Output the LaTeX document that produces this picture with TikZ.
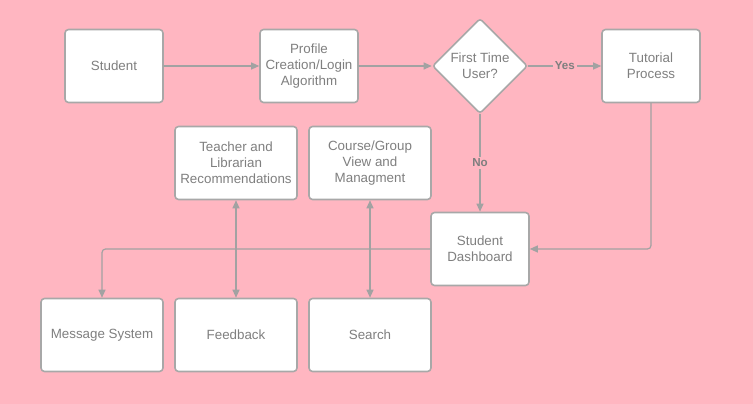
\documentclass[tikz,border=0pt]{standalone}
\usepackage{fontspec}
\setmainfont{Liberation Sans}
\usepackage{tikz}
\usetikzlibrary{arrows.meta,shapes.geometric}

\definecolor{bgpink}{HTML}{FFB6C1}
\definecolor{boxline}{HTML}{A8A8A8}
\definecolor{wire}{HTML}{A2A2A2}
\definecolor{txtgray}{HTML}{7F7F7F}

\tikzset{
  box/.style={draw=boxline,line width=0.9pt,fill=white,rounded corners=2pt,
    minimum width=1.96cm,minimum height=1.46cm,align=center,text=txtgray,
    font=\fontsize{7.6}{9.1}\selectfont,inner sep=1pt},
  widebox/.style={box,minimum width=2.44cm},
  choice/.style={box,diamond,minimum width=1.9cm,minimum height=1.9cm,rounded corners=1.5pt},
  wirelabel/.style={fill=bgpink,text=txtgray,inner sep=1pt,
    font=\fontsize{6.6}{8}\selectfont\bfseries},
  link/.style={draw=wire,line width=0.7pt,-{Triangle[length=4.6pt,width=4pt]}},
  both/.style={link,{Triangle[length=4.6pt,width=4pt]}-{Triangle[length=4.6pt,width=4pt]}},
}

\begin{document}
\begin{tikzpicture}[line cap=round,line join=round,x=0.02cm,y=-0.02cm]
\fill[bgpink] (0,0) rectangle (753,404);
\useasboundingbox (0,0) rectangle (753,404);
% top row
\node[box] (student) at (114,66) {Student};
\node[box] (profile) at (309,66) {Profile\\Creation/Login\\Algorithm};
\node[choice] (firsttime) at (480,66) {First Time\\User?};
\node[box] (tutorial) at (651,66) {Tutorial\\Process};
% middle
\node[widebox] (teacher) at (236,163) {Teacher and\\Librarian\\Recommendations};
\node[widebox] (course) at (370,163) {Course/Group\\View and\\Managment};
\node[box] (dashboard) at (480,249) {Student\\Dashboard};
% bottom row
\node[widebox] (message) at (102,335) {Message System};
\node[widebox] (feedback) at (236,335) {Feedback};
\node[widebox] (search) at (370,335) {Search};
% connectors
\draw[link] (student) -- (profile);
\draw[link] (profile) -- (firsttime);
\draw[link] (firsttime) -- node[wirelabel,pos=0.5] {Yes} (tutorial);
\draw[link] (firsttime) -- node[wirelabel,pos=0.5] {No} (dashboard);
\draw[link,rounded corners=2pt] (tutorial.south) |- (dashboard.east);
\draw[link,rounded corners=2pt] (dashboard.west) -| (message.north);
\draw[both] (teacher) -- (feedback);
\draw[both] (course) -- (search);
\end{tikzpicture}
\end{document}
